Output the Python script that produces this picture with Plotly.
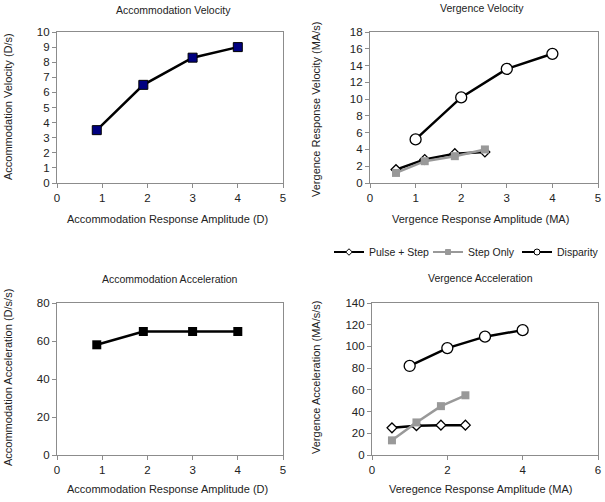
import plotly.graph_objects as go

# ---- data ----
acc_amp = [0.88, 1.91, 3.0, 4.0]
acc_vel = [3.5, 6.5, 8.3, 9.0]
acc_acc = [58, 65, 65, 65]

ps_amp_v = [0.57, 1.2, 1.86, 2.52]
ps_vel = [1.6, 2.8, 3.5, 3.7]
so_vel = [1.2, 2.6, 3.2, 4.0]
disp_amp = [1.0, 2.0, 3.0, 4.0]
disp_vel = [5.2, 10.2, 13.6, 15.4]

ps_amp_a = [0.53, 1.18, 1.83, 2.48]
ps_acc = [25, 27, 27.5, 27.5]
so_acc = [13.5, 30, 45, 55]
disp_acc = [82, 98.5, 109, 115]

legend_names = ["Pulse + Step", "Step Only", "Disparity"]

FONT = "Liberation Sans, Arial, sans-serif"
TXT = "#222222"
GRAY = "#999999"
AX = "#8c8c8c"

fig = go.Figure()

# top-left
fig.add_trace(go.Scatter(x=acc_amp, y=acc_vel, mode="lines+markers", xaxis="x", yaxis="y",
                         line=dict(color="black", width=2.5),
                         marker=dict(symbol="square", size=9, color="#000080", line=dict(color="black", width=1)),
                         showlegend=False))
# top-right
fig.add_trace(go.Scatter(x=ps_amp_v, y=ps_vel, mode="lines+markers", xaxis="x2", yaxis="y2",
                         line=dict(color="black", width=2.5),
                         marker=dict(symbol="diamond", size=7.5, color="white", line=dict(color="black", width=1.3)),
                         showlegend=False))
fig.add_trace(go.Scatter(x=ps_amp_v, y=so_vel, mode="lines+markers", xaxis="x2", yaxis="y2",
                         line=dict(color=GRAY, width=2.5),
                         marker=dict(symbol="square", size=8, color=GRAY),
                         showlegend=False))
fig.add_trace(go.Scatter(x=disp_amp, y=disp_vel, mode="lines+markers", xaxis="x2", yaxis="y2",
                         line=dict(color="black", width=2.5),
                         marker=dict(symbol="circle", size=11, color="white", line=dict(color="black", width=1.3)),
                         showlegend=False))
# bottom-left
fig.add_trace(go.Scatter(x=acc_amp, y=acc_acc, mode="lines+markers", xaxis="x3", yaxis="y3",
                         line=dict(color="black", width=2.5),
                         marker=dict(symbol="square", size=9, color="black"),
                         showlegend=False))
# bottom-right
fig.add_trace(go.Scatter(x=ps_amp_a, y=ps_acc, mode="lines+markers", xaxis="x4", yaxis="y4",
                         line=dict(color="black", width=2.5),
                         marker=dict(symbol="diamond", size=7.5, color="white", line=dict(color="black", width=1.3)),
                         showlegend=False))
fig.add_trace(go.Scatter(x=ps_amp_a, y=so_acc, mode="lines+markers", xaxis="x4", yaxis="y4",
                         line=dict(color=GRAY, width=2.5),
                         marker=dict(symbol="square", size=8, color=GRAY),
                         showlegend=False))
fig.add_trace(go.Scatter(x=disp_amp, y=disp_acc, mode="lines+markers", xaxis="x4", yaxis="y4",
                         line=dict(color="black", width=2.5),
                         marker=dict(symbol="circle", size=11, color="white", line=dict(color="black", width=1.3)),
                         showlegend=False))

W, H = 605, 502
def px(x):
    return x / W
def py(y):
    return 1 - y / H

# legend-only entries, each in its own legend for exact placement
leg_styles = [("black", "diamond", 5, "white"), (GRAY, "square", 5, GRAY), ("black", "circle", 6, "white")]
leg_x = [329, 428, 517]
legend_layout = {}
for i, (name, (col, sym, sz, fc), lx) in enumerate(zip(legend_names, leg_styles, leg_x)):
    lid = "legend" if i == 0 else f"legend{i+1}"
    fig.add_trace(go.Scatter(x=[None], y=[None], mode="lines+markers", name=name, xaxis="x2", yaxis="y2",
                             legend=lid, line=dict(color=col, width=2),
                             marker=dict(symbol=sym, size=sz, color=fc, line=dict(color=col, width=1))))
    legend_layout[lid] = dict(x=px(lx), y=py(252), xanchor="left", yanchor="middle",
                              font=dict(family=FONT, size=10.5, color=TXT), itemwidth=30,
                              bgcolor="rgba(0,0,0,0)")


def ax(domain, rng, dtick, anchor):
    return dict(domain=domain, range=rng, dtick=dtick, tick0=0, anchor=anchor,
                showgrid=False, zeroline=False, showline=True, linecolor=AX, linewidth=1.2, mirror=True,
                ticks="outside", ticklen=4, tickcolor=AX,
                tickfont=dict(family=FONT, size=11.5, color=TXT))


top = [py(183), py(32)]
bot = [py(455), py(303)]

fig.update_layout(
    width=W, height=H,
    margin=dict(l=0, r=0, t=0, b=0, autoexpand=False),
    paper_bgcolor="white", plot_bgcolor="white",
    font=dict(family=FONT, color=TXT),
    xaxis=ax([px(57), px(283)], [0, 5], 1, "y"),
    yaxis=ax(top, [0, 10], 1, "x"),
    xaxis2=ax([px(370), px(598)], [0, 5], 1, "y2"),
    yaxis2=ax(top, [0, 18], 2, "x2"),
    xaxis3=ax([px(57), px(283)], [0, 5], 1, "y3"),
    yaxis3=ax(bot, [0, 80], 20, "x3"),
    xaxis4=ax([px(372), px(598)], [0, 6], 2, "y4"),
    yaxis4=ax(bot, [0, 140], 20, "x4"),
    **legend_layout,
)

ann = []
def text(x, y, s, size=11, angle=0):
    ann.append(dict(x=px(x), y=py(y), xref="paper", yref="paper", text=s, showarrow=False,
                    textangle=angle, xanchor="center", yanchor="middle",
                    font=dict(family=FONT, size=size, color=TXT)))

# titles
text(173, 10, "Accommodation Velocity", 10.5)
text(482, 8, "Vergence Velocity", 10.5)
text(170, 279, "Accommodation Acceleration", 10.5)
text(480, 278, "Vergence Acceleration", 10.5)
# x-axis titles
text(167, 219, "Accommodation Response Amplitude (D)", 11)
text(480, 219, "Vergence Response Amplitude (MA)", 11)
text(167, 489, "Accommodation Response Amplitude (D)", 11)
text(480, 489, "Veregence Response Amplitude (MA)", 11)
# y-axis titles
text(8, 107, "Accommodation Velocity (D/s)", 11, -90)
text(316, 110, "Vergence Response Velocity (MA/s)", 11, -90)
text(8, 378, "Accommodation Acceleration (D/s/s)", 11, -90)
text(316, 378, "Vergence Acceleration (MA/s/s)", 11, -90)
fig.update_layout(annotations=ann)

fig.write_html("out.html", config={"displayModeBar": False},
               post_script="document.body.style.margin='0px';document.body.style.padding='0px';")
